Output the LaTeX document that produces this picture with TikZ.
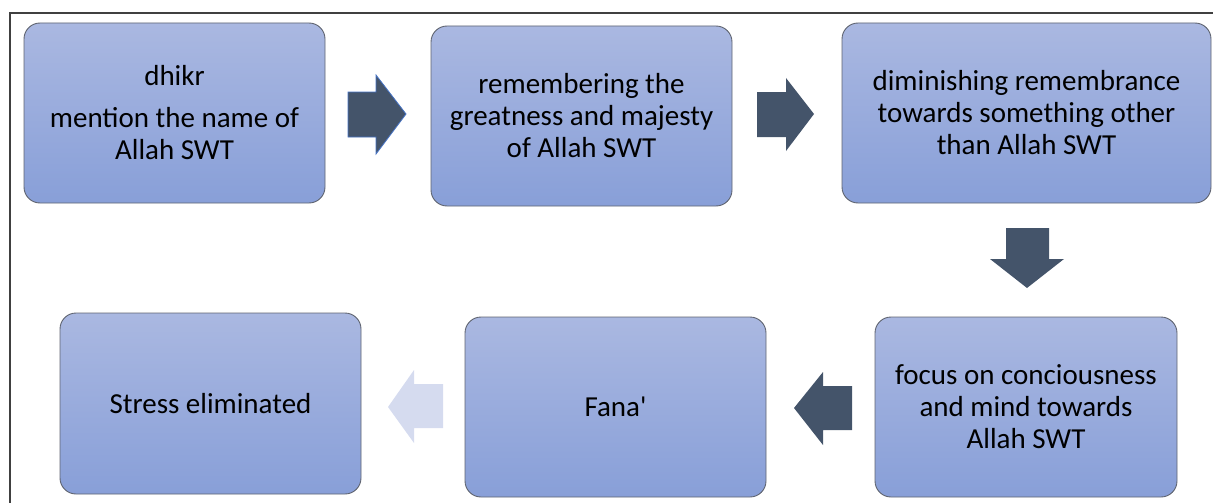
\documentclass[tikz,border=0pt]{standalone}
\usepackage{fontspec}
\setmainfont{Carlito}
\definecolor{boxtop}{HTML}{AAB8E1}
\definecolor{boxbot}{HTML}{889FD8}
\definecolor{boxline}{HTML}{5F6470}
\definecolor{arrowfill}{HTML}{44546A}
\definecolor{arrowedge}{HTML}{4472C4}
\definecolor{fadefill}{HTML}{D5DBEF}
\definecolor{frameline}{HTML}{404040}
\tikzset{
  stepbox/.style={draw=boxline, line width=0.9pt, rounded corners=16pt,
    top color=boxtop, bottom color=boxbot, align=center,
    minimum height=180pt, inner sep=0pt,
    font=\fontsize{29}{32}\selectfont, text=black},
  blockarrow/.style={fill=arrowfill, draw=none},
}
\begin{document}
\begin{tikzpicture}[x=1pt,y=-1pt]
\useasboundingbox (0,0) rectangle (1213,503);
\draw[frameline, line width=1.3pt] (10,503) -- (10,13) -- (1213,13);

\node[stepbox, minimum width=301pt] (b1) at (174.5,113) {dhikr\\[10pt]mention the name of\\Allah SWT};
\node[stepbox, minimum width=301pt] (b2) at (581.5,116) {remembering the\\greatness and majesty\\of Allah SWT};
\node[stepbox, minimum width=369pt] (b3) at (1026.5,113) {diminishing remembrance\\towards something other\\than Allah SWT};
\node[stepbox, minimum width=302pt] (b4) at (1026,407) {focus on conciousness\\and mind towards\\Allah SWT};
\node[stepbox, minimum width=301pt] (b5) at (615.5,407) {Fana\textquotesingle};
\node[stepbox, minimum width=301pt, minimum height=181pt] (b6) at (210.5,403.5) {Stress eliminated};

% block arrows between the steps
\draw[blockarrow, draw=arrowedge, line width=0.8pt] (348,92) -- (376,92) -- (376,75) -- (406,114) -- (376,154) -- (376,137) -- (348,137) -- cycle;
\fill[arrowfill] (757,92) -- (786,92) -- (786,78) -- (814,114) -- (786,151) -- (786,137) -- (757,137) -- cycle;
\fill[arrowfill] (1006,228) -- (1049,228) -- (1049,259) -- (1064,259) -- (1027,288) -- (990,259) -- (1006,259) -- cycle;
\fill[arrowfill] (852,386) -- (852,430) -- (823,430) -- (823,445) -- (794,408) -- (823,372) -- (823,386) -- cycle;
\fill[fadefill] (443,384) -- (443,428) -- (414,428) -- (414,443) -- (388,407) -- (414,370) -- (414,384) -- cycle;
\end{tikzpicture}
\end{document}
